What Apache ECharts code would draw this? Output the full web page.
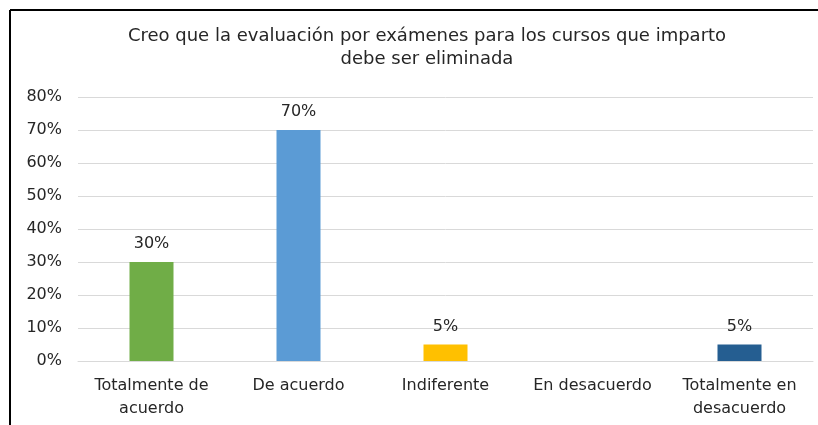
<!DOCTYPE html>
<html>
<head>
<meta charset="utf-8">
<script src="https://cdn.jsdelivr.net/npm/echarts@6/dist/echarts.min.js"></script>
<style>
  html, body { margin: 0; padding: 0; background: #fff; }
  #chart { width: 818px; height: 425px; }
</style>
</head>
<body>
<div id="chart"></div>
<script>
// respuestas de la encuesta
const categories = ['Totalmente de\nacuerdo', 'De acuerdo', 'Indiferente', 'En desacuerdo', 'Totalmente en\ndesacuerdo'];
const values = [30, 70, 5, 0, 5];
const barColors = ['#70AD47', '#5B9BD5', '#FFC000', '#A5A5A5', '#255E91'];
const yTicks = [0, 10, 20, 30, 40, 50, 60, 70, 80];

const chart = echarts.init(document.getElementById('chart'));

const option = {
  animation: false,
  textStyle: { fontFamily: 'DejaVu Sans, sans-serif' },
  title: {
    text: 'Creo que la evaluación por exámenes para los cursos que imparto\ndebe ser eliminada',
    left: 422,
    textAlign: 'center',
    top: 20,
    textStyle: { fontSize: 18, fontWeight: 'normal', color: '#262626', lineHeight: 23 }
  },
  grid: { left: 78, right: 5, top: 97, bottom: 64, containLabel: false },
  xAxis: {
    type: 'category',
    data: categories,
    axisTick: { show: false },
    axisLine: { lineStyle: { color: '#d9d9d9', width: 1 } },
    axisLabel: { color: '#262626', fontSize: 16, lineHeight: 23, margin: 13, interval: 0 }
  },
  yAxis: {
    type: 'value',
    min: yTicks[0],
    max: yTicks[yTicks.length - 1],
    interval: 10,
    axisLine: { show: false },
    axisTick: { show: false },
    splitLine: { lineStyle: { color: '#d9d9d9', width: 1 } },
    axisLabel: { formatter: '{value}%', color: '#262626', fontSize: 16, margin: 16 }
  },
  series: [{
    type: 'bar',
    barWidth: 44,
    data: values.map((v, i) => ({ value: v, itemStyle: { color: barColors[i] } })),
    label: {
      show: true,
      position: 'top',
      distance: 10,
      fontSize: 16,
      color: '#262626',
      formatter: p => p.value > 0 ? p.value + '%' : ''
    }
  }],
  graphic: [
    { type: 'line', shape: { x1: 10, y1: 10, x2: 818, y2: 10 }, style: { stroke: '#000', lineWidth: 2 } },
    { type: 'line', shape: { x1: 10, y1: 10, x2: 10, y2: 425 }, style: { stroke: '#000', lineWidth: 2 } }
  ]
};

chart.setOption(option);
</script>
</body>
</html>
